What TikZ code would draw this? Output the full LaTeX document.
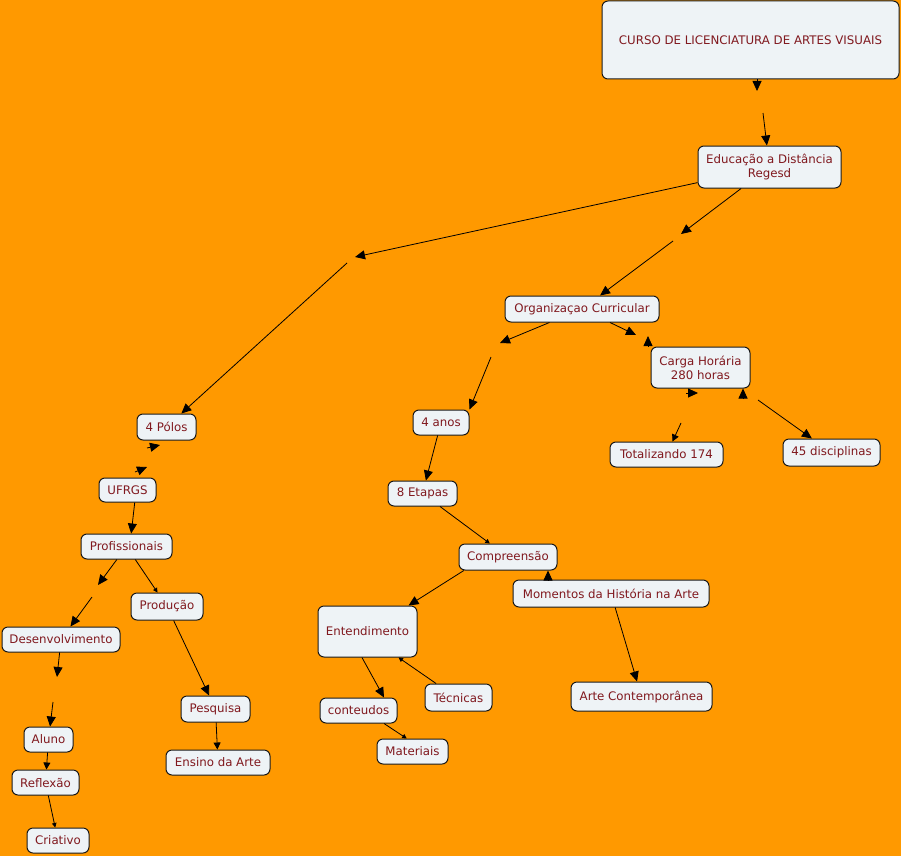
\documentclass[tikz,border=0pt]{standalone}
\usepackage{fontspec}
\setmainfont{DejaVu Sans}
\usepackage{tikz}
\usetikzlibrary{arrows.meta}
\definecolor{map-bg}{RGB}{255,153,0}
\definecolor{map-fill}{RGB}{238,243,246}
\definecolor{map-text}{RGB}{128,24,30}
\tikzset{
  map-concept/.style={draw=black!90, fill=map-fill, rounded corners=6pt, line width=1pt,
    align=center, text=map-text, font=\fontsize{11.8}{14}\selectfont, inner sep=0pt},
  map-box/.style 2 args={minimum width=#1pt, minimum height=#2pt},
  map-link/.style={draw=black, line width=0.8pt, -{Triangle[length=10pt,width=9pt]}},
  map-link-mid/.style={draw=black, line width=0.8pt, -{Triangle[length=7pt,width=7pt]}},
  map-link-small/.style={draw=black, line width=0.8pt, -{Triangle[length=4.5pt,width=4.5pt]}}
}

\begin{document}
\begin{tikzpicture}[x=1pt, y=-1pt]
  \fill[map-bg] (0,0) rectangle (901,856);
  \useasboundingbox (0,0) rectangle (901,856);

  % Concepts
  \node[map-concept, map-box={297}{78}] (curso) at (750.5,40) {CURSO DE LICENCIATURA DE ARTES VISUAIS};
  \node[map-concept, map-box={143}{42}] (educ) at (769.5,167) {Educação a Distância\\Regesd};
  \node[map-concept, map-box={154}{26}] (org) at (582,309) {Organizaçao Curricular};
  \node[map-concept, map-box={99}{41}] (carga) at (700.5,367.5) {Carga Horária\\280 horas};
  \node[map-concept, map-box={113}{25}] (total) at (666.5,454.5) {Totalizando 174};
  \node[map-concept, map-box={97}{27}] (disc) at (831.5,452.5) {45 disciplinas};
  \node[map-concept, map-box={56}{25}] (anos) at (441,422.5) {4 anos};
  \node[map-concept, map-box={69}{25}] (etapas) at (422.5,493.5) {8 Etapas};
  \node[map-concept, map-box={98}{26}] (compr) at (508,557) {Compreensão};
  \node[map-concept, map-box={196}{27}] (momentos) at (611,593.5) {Momentos da História na Arte};
  \node[map-concept, map-box={99}{51}] (entend) at (367.5,631.5) {Entendimento};
  \node[map-concept, map-box={67}{27}] (tecnicas) at (458.5,697.5) {Técnicas};
  \node[map-concept, map-box={77}{25}] (conteudos) at (358.5,710.5) {conteudos};
  \node[map-concept, map-box={71}{25}] (materiais) at (412.5,751.5) {Materiais};
  \node[map-concept, map-box={141}{29}] (artecont) at (641.5,696.5) {Arte Contemporânea};
  \node[map-concept, map-box={59}{26}] (polos) at (166.5,427) {4 Pólos};
  \node[map-concept, map-box={57}{24}] (ufrgs) at (127.5,490) {UFRGS};
  \node[map-concept, map-box={91}{25}] (prof) at (126.5,546.5) {Profissionais};
  \node[map-concept, map-box={72}{27}] (producao) at (167,606.5) {Produção};
  \node[map-concept, map-box={118}{25}] (desenv) at (61,639.5) {Desenvolvimento};
  \node[map-concept, map-box={69}{26}] (pesquisa) at (215.5,709) {Pesquisa};
  \node[map-concept, map-box={104}{25}] (ensino) at (218,762.5) {Ensino da Arte};
  \node[map-concept, map-box={49}{25}] (aluno) at (48.5,739.5) {Aluno};
  \node[map-concept, map-box={67}{25}] (reflexao) at (45.5,782.5) {Reflexão};
  \node[map-concept, map-box={62}{25}] (criativo) at (58,840.5) {Criativo};

  % Empty linking phrases (ends of the connectors)
  \coordinate (k1a) at (757,91);   \coordinate (k1b) at (763,113);
  \coordinate (k2a) at (355,257);  \coordinate (k2b) at (347,263);
  \coordinate (k3a) at (681,234);  \coordinate (k3b) at (673,241);
  \coordinate (k4a) at (500,343);  \coordinate (k4b) at (491,357);
  \coordinate (k5a) at (636,335);  \coordinate (k5b) at (648,336);
  \coordinate (k6a) at (686,393);  \coordinate (k6t) at (698,393);
  \coordinate (k6b) at (681,423);
  \coordinate (k7a) at (743,399);  \coordinate (k7b) at (758,400);
  \coordinate (k8a) at (147,448);  \coordinate (k8t) at (160,445);
  \coordinate (k9a) at (135,472);  \coordinate (k9t) at (147,467);
  \coordinate (k10a) at (98,585);  \coordinate (k10b) at (92,597);
  \coordinate (k11a) at (57,677);  \coordinate (k11b) at (53,702);
  \coordinate (k12) at (548,580);

  % Top of the map
  \draw[map-link] (curso.south -| k1a) -- (k1a);
  \draw[map-link] (k1b) -- (educ);
  \draw[map-link] (educ) -- (k2a);
  \draw[map-link] (k2b) -- (polos);
  \draw[map-link] (educ) -- (k3a);
  \draw[map-link] (k3b) -- (org);

  % Organizacao Curricular branch
  \draw[map-link] (org) -- (k4a);
  \draw[map-link] (k4b) -- (anos.north east);
  \draw[map-link] (org) -- (k5a);
  \draw[map-link] (carga.north -| k5b) -- (k5b);
  \draw[map-link] (k6a) -- (k6t);
  \draw[map-link-mid] (k6b) -- (total);
  \draw[map-link] (k7a) -- (k7a |- carga.south);
  \draw[map-link] (k7b) -- (disc);
  \draw[map-link] (anos) -- (etapas);
  \draw[map-link-small] (etapas) -- (compr);
  \draw[map-link] (compr.-163) -- (entend);
  \draw[map-link] (momentos.north -| k12) -- (compr.south -| k12);
  \draw[map-link] (momentos) -- (artecont);
  \draw[map-link] (entend.-102) -- (conteudos.27);
  \draw[map-link-small] (tecnicas.148) -- (entend.-40);
  \draw[map-link-small] (conteudos.-27) -- (materiais.114);

  % 4 Polos branch
  \draw[map-link] (k8a) -- (k8t);
  \draw[map-link] (k9a) -- (k9t);
  \draw[map-link] (ufrgs.-60) -- (prof.70);
  \draw[map-link] (prof) -- (k10a);
  \draw[map-link] (k10b) -- (desenv);
  \draw[map-link-small] (prof) -- (producao);
  \draw[map-link] (producao) -- (pesquisa);
  \draw[map-link-mid] (pesquisa) -- (ensino);
  \draw[map-link] (desenv) -- (k11a);
  \draw[map-link] (k11b) -- (aluno);
  \draw[map-link-mid] (aluno) -- (reflexao);
  \draw[map-link-small] (reflexao) -- (criativo);
\end{tikzpicture}
\end{document}
